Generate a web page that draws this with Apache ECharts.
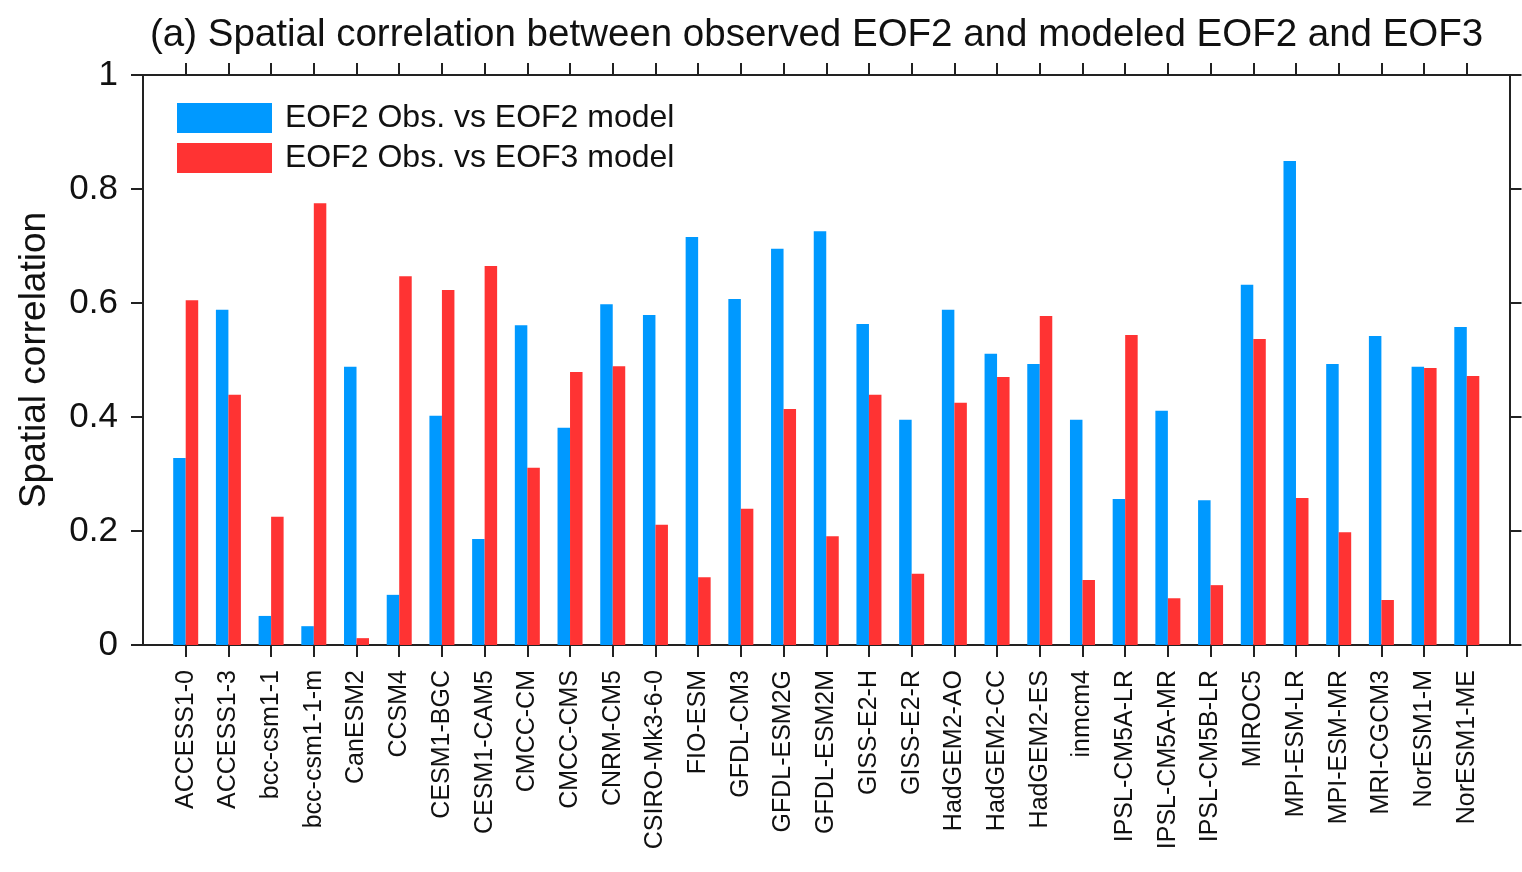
<!DOCTYPE html>
<html>
<head>
<meta charset="utf-8">
<script src="https://cdn.jsdelivr.net/npm/echarts@6/dist/echarts.min.js"></script>
<style>
  html, body { margin: 0; padding: 0; background: #fff; }
  #chart { width: 1522px; height: 872px; }
</style>
</head>
<body>
<div id="chart"></div>
<script>
// model names (padding slots at both ends keep the first/last bar off the frame)
const models = ['ACCESS1-0', 'ACCESS1-3', 'bcc-csm1-1', 'bcc-csm1-1-m', 'CanESM2', 'CCSM4',
  'CESM1-BGC', 'CESM1-CAM5', 'CMCC-CM', 'CMCC-CMS', 'CNRM-CM5', 'CSIRO-Mk3-6-0', 'FIO-ESM',
  'GFDL-CM3', 'GFDL-ESM2G', 'GFDL-ESM2M', 'GISS-E2-H', 'GISS-E2-R', 'HadGEM2-AO', 'HadGEM2-CC',
  'HadGEM2-ES', 'inmcm4', 'IPSL-CM5A-LR', 'IPSL-CM5A-MR', 'IPSL-CM5B-LR', 'MIROC5',
  'MPI-ESM-LR', 'MPI-ESM-MR', 'MRI-CGCM3', 'NorESM1-M', 'NorESM1-ME'];

const eof2Model = [0.328, 0.588, 0.051, 0.033, 0.488, 0.088, 0.402, 0.186, 0.561, 0.381,
  0.598, 0.579, 0.716, 0.607, 0.695, 0.726, 0.563, 0.395, 0.588, 0.511,
  0.493, 0.395, 0.256, 0.411, 0.254, 0.632, 0.849, 0.493, 0.542, 0.488, 0.558];

const eof3Model = [0.605, 0.439, 0.225, 0.775, 0.012, 0.647, 0.623, 0.665, 0.311, 0.479,
  0.489, 0.211, 0.119, 0.239, 0.414, 0.191, 0.439, 0.125, 0.425, 0.470,
  0.577, 0.114, 0.544, 0.082, 0.105, 0.537, 0.258, 0.198, 0.079, 0.486, 0.472];

const yTicks = { min: 0, max: 1, interval: 0.2 };

const cats = [''].concat(models, [' ']);
const pad = arr => [null].concat(arr, [null]);

const font = 'Liberation Sans, Arial, Helvetica, sans-serif';
const lineCol = '#222';

let chart = echarts.init(document.getElementById('chart'));

const tickShow = (i, v) => v.trim() !== '';

let option = {
  backgroundColor: '#fff',
  animation: false,
  title: {
    text: '(a) Spatial correlation between observed EOF2 and modeled EOF2 and EOF3',
    left: 145,
    top: 11,
    textStyle: { fontFamily: font, fontSize: 38.5, fontWeight: 'normal', color: '#111' }
  },
  legend: {
    orient: 'vertical',
    left: 172,
    top: 97,
    itemWidth: 95,
    itemHeight: 30,
    itemGap: 8,
    icon: 'rect',
    textStyle: { fontFamily: font, fontSize: 32, color: '#111', padding: [0, 0, 0, 8] },
    data: ['EOF2 Obs. vs EOF2 model', 'EOF2 Obs. vs EOF3 model']
  },
  grid: { left: 143, right: 12, top: 75, bottom: 227 },
  xAxis: [
    {
      type: 'category',
      data: cats,
      boundaryGap: false,
      position: 'bottom',
      axisLine: { onZero: false, lineStyle: { color: lineCol, width: 2 } },
      axisTick: { show: true, interval: tickShow, inside: false, length: 12, lineStyle: { color: lineCol, width: 2 } },
      axisLabel: { interval: 0, rotate: 90, margin: 25, fontFamily: font, fontSize: 25, color: '#111' },
      splitLine: { show: false }
    },
    {
      type: 'category',
      data: cats,
      boundaryGap: false,
      position: 'top',
      axisLine: { onZero: false, lineStyle: { color: lineCol, width: 2 } },
      axisTick: { show: true, interval: tickShow, inside: false, length: 12, lineStyle: { color: lineCol, width: 2 } },
      axisLabel: { show: false },
      splitLine: { show: false }
    }
  ],
  yAxis: [
    {
      type: 'value',
      min: yTicks.min, max: yTicks.max, interval: yTicks.interval,
      position: 'left',
      name: 'Spatial correlation',
      nameLocation: 'middle',
      nameRotate: 90,
      nameGap: 90,
      nameTextStyle: { fontFamily: font, fontSize: 37, color: '#111' },
      axisLine: { show: true, onZero: false, lineStyle: { color: lineCol, width: 2 } },
      axisTick: { show: true, inside: false, length: 12, lineStyle: { color: lineCol, width: 2 } },
      axisLabel: { margin: 25, fontFamily: font, fontSize: 35, color: '#111' },
      splitLine: { show: false }
    },
    {
      type: 'value',
      min: yTicks.min, max: yTicks.max, interval: yTicks.interval,
      position: 'right',
      axisLine: { show: true, onZero: false, lineStyle: { color: lineCol, width: 2 } },
      axisTick: { show: true, inside: false, length: 12, lineStyle: { color: lineCol, width: 2 } },
      axisLabel: { show: false },
      splitLine: { show: false }
    }
  ],
  series: [
    {
      name: 'EOF2 Obs. vs EOF2 model',
      type: 'bar',
      barWidth: 12.5,
      barGap: '0%',
      itemStyle: { color: '#0099ff' },
      data: pad(eof2Model)
    },
    {
      name: 'EOF2 Obs. vs EOF3 model',
      type: 'bar',
      barWidth: 12.5,
      barGap: '0%',
      itemStyle: { color: '#ff3333' },
      data: pad(eof3Model)
    }
  ]
};

chart.setOption(option);
</script>
</body>
</html>
